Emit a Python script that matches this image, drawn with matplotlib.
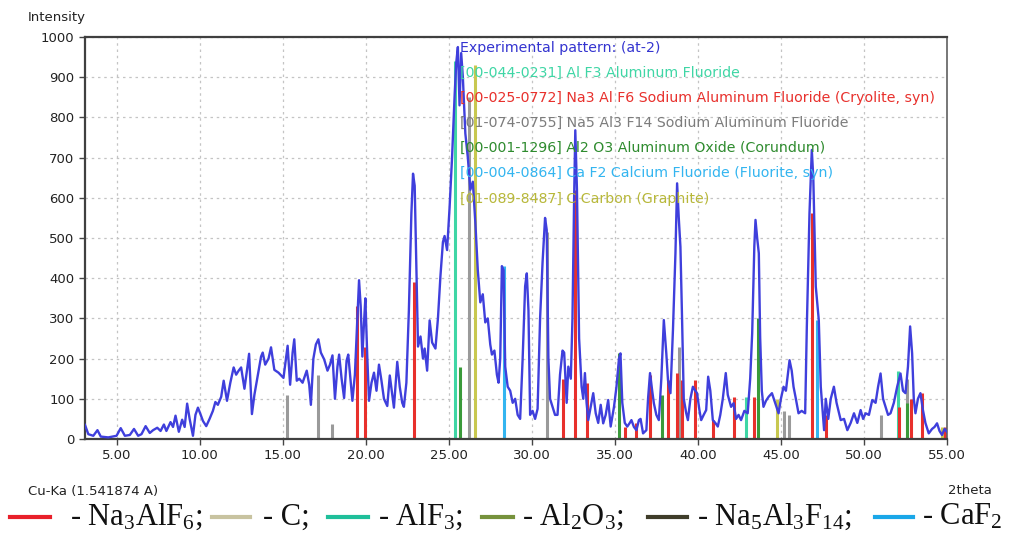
import matplotlib
matplotlib.use("Agg")
from matplotlib import pyplot as plt
from matplotlib.lines import Line2D

# experimental pattern (2theta, intensity)
two_theta = [3.1, 3.3, 3.6, 3.85, 4.05, 4.5, 5.0, 5.25, 5.5, 5.8, 6.05, 6.3, 6.5, 6.75, 7.0, 7.2, 7.45, 7.65,
             7.85, 8.0, 8.25, 8.4, 8.55, 8.75, 8.95, 9.1, 9.25, 9.4, 9.6, 9.75, 9.9, 10.05, 10.2, 10.4, 10.6,
             10.8, 10.95, 11.1, 11.3, 11.45, 11.65, 11.85, 12.05, 12.2, 12.35, 12.5, 12.7, 12.85, 12.98, 13.15,
             13.3, 13.5, 13.7, 13.8, 13.95, 14.15, 14.3, 14.5, 14.75, 15.05, 15.2, 15.3, 15.45, 15.6, 15.7,
             15.85, 16.0, 16.2, 16.45, 16.6, 16.7, 16.85, 17.0, 17.15, 17.3, 17.5, 17.7, 17.85, 18.0, 18.15,
             18.3, 18.4, 18.55, 18.7, 18.85, 18.95, 19.1, 19.2, 19.35, 19.5, 19.6, 19.7, 19.8, 19.9, 19.98,
             20.1, 20.2, 20.35, 20.5, 20.65, 20.8, 20.95, 21.1, 21.3, 21.45, 21.6, 21.7, 21.9, 22.05, 22.2,
             22.3, 22.45, 22.6, 22.75, 22.85, 22.95, 23.05, 23.15, 23.3, 23.45, 23.55, 23.7, 23.85, 24.0,
             24.2, 24.35, 24.5, 24.65, 24.75, 24.9, 25.05, 25.2, 25.35, 25.45, 25.55, 25.65, 25.75, 25.85,
             26.0, 26.15, 26.3, 26.45, 26.6, 26.75, 26.9, 27.05, 27.2, 27.35, 27.5, 27.6, 27.75, 27.9, 28.0,
             28.1, 28.2, 28.3, 28.4, 28.55, 28.7, 28.85, 29.0, 29.15, 29.3, 29.45, 29.6, 29.7, 29.8, 29.9,
             30.05, 30.2, 30.35, 30.5, 30.65, 30.8, 30.9, 31.0, 31.1, 31.25, 31.4, 31.55, 31.7, 31.85, 31.95,
             32.1, 32.2, 32.35, 32.45, 32.55, 32.62, 32.72, 32.85, 33.0, 33.1, 33.2, 33.3, 33.4, 33.55, 33.7,
             33.85, 34.0, 34.15, 34.3, 34.45, 34.6, 34.75, 34.95, 35.1, 35.25, 35.34, 35.45, 35.6, 35.75,
             35.9, 36.0, 36.15, 36.3, 36.45, 36.55, 36.7, 36.9, 37.0, 37.12, 37.25, 37.35, 37.5, 37.65, 37.8,
             37.95, 38.1, 38.2, 38.35, 38.5, 38.65, 38.75, 38.85, 38.95, 39.05, 39.15, 39.3, 39.4, 39.55,
             39.7, 39.85, 39.95, 40.1, 40.2, 40.35, 40.5, 40.62, 40.75, 40.9, 41.05, 41.2, 41.35, 41.5, 41.68,
             41.8, 42.0, 42.15, 42.3, 42.45, 42.6, 42.8, 43.0, 43.15, 43.27, 43.4, 43.47, 43.57, 43.67, 43.75,
             43.85, 43.95, 44.1, 44.26, 44.46, 44.65, 44.86, 45.0, 45.16, 45.3, 45.52, 45.65, 45.76, 45.9,
             46.06, 46.25, 46.46, 46.56, 46.72, 46.86, 46.95, 47.1, 47.28, 47.4, 47.6, 47.7, 47.85, 48.0,
             48.19, 48.35, 48.6, 48.8, 49.0, 49.2, 49.4, 49.6, 49.8, 49.95, 50.1, 50.3, 50.5, 50.7, 50.85,
             51.0, 51.15, 51.3, 51.45, 51.6, 51.8, 52.0, 52.2, 52.35, 52.5, 52.65, 52.78, 52.9, 53.0, 53.1,
             53.25, 53.4, 53.55, 53.7, 53.9, 54.1, 54.25, 54.4, 54.55, 54.7, 54.85, 55.0]
intensity = [35, 12, 8, 22, 6, 4, 8, 27, 8, 10, 25, 8, 12, 32, 15, 22, 28, 20,
             36, 20, 42, 30, 58, 18, 48, 30, 88, 50, 8, 60, 78, 62, 45, 32, 50,
             70, 92, 85, 105, 145, 95, 140, 178, 160, 170, 178, 125, 170, 212, 62,
             110, 158, 205, 215, 185, 200, 228, 172, 165, 152, 200, 232, 135, 215, 248,
             145, 150, 140, 170, 135, 85, 200, 235, 248, 215, 198, 170, 185, 208, 100,
             180, 210, 150, 102, 195, 210, 140, 95, 160, 300, 395, 330, 205, 290, 350,
             200, 95, 140, 165, 120, 185, 145, 100, 82, 158, 110, 78, 192, 130, 90,
             80, 140, 320, 560, 660, 630, 430, 230, 255, 200, 225, 170, 295, 240,
             225, 300, 405, 490, 505, 470, 575, 700, 850, 935, 975, 830, 960, 900,
             760, 700, 620, 640, 540, 420, 340, 360, 290, 300, 235, 210, 220, 160, 140,
             200, 430, 420, 180, 130, 120, 90, 100, 60, 50, 200, 380, 412, 320, 60,
             70, 50, 75, 300, 440, 550, 520, 200, 100, 80, 60, 60, 160, 220, 215,
             90, 180, 150, 300, 600, 768, 620, 250, 130, 100, 164, 90, 47, 80, 114,
             64, 40, 85, 39, 60, 97, 31, 80, 130, 200, 213, 90, 40, 31,
             40, 47, 30, 22, 47, 50, 14, 22, 100, 164, 120, 89, 60, 47, 150,
             296, 213, 147, 114, 271, 462, 636, 550, 478, 296, 100, 64, 47, 100,
             130, 120, 114, 70, 47, 60, 72, 155, 120, 47, 40, 31, 60, 100, 164,
             110, 80, 89, 50, 60, 47, 70, 64, 150, 263, 480, 545, 500, 462, 254,
             120, 80, 95, 105, 114, 90, 64, 100, 130, 120, 196, 170, 130, 100,
             64, 70, 64, 279, 561, 719, 650, 379, 296, 130, 22, 100, 50, 100,
             130, 90, 47, 50, 22, 40, 64, 40, 72, 50, 64, 60, 97, 90, 130,
             163, 100, 80, 60, 64, 90, 130, 163, 120, 114, 180, 280, 213, 100, 64,
             100, 114, 72, 40, 14, 25, 30, 39, 20, 10, 25, 18]

# reference stick patterns
na3alf6_pos = [19.45, 19.95, 22.9, 31.9, 32.6, 33.3, 35.6, 36.3, 37.1, 38.2, 38.75, 39.05, 39.8, 40.9,
               42.2, 43.35, 46.88, 47.7, 52.1, 52.85, 53.5, 54.9]
na3alf6_int = [330, 230, 390, 150, 620, 140, 30, 40, 160, 147, 164, 147, 147, 47,
               105, 105, 561, 60, 80, 100, 114, 30]
na5al3f14_pos = [15.25, 17.1, 17.95, 26.2, 30.9, 38.85, 45.2, 45.5, 51.0, 52.6]
na5al3f14_int = [110, 160, 38, 850, 515, 230, 70, 60, 60, 150]
alf3_pos = [25.35, 42.9, 52.05]
alf3_int = [940, 105, 170]
al2o3_pos = [25.65, 35.25, 37.85, 43.6, 52.6]
al2o3_int = [180, 213, 110, 300, 90]
caf2_pos = [28.3, 47.15]
caf2_int = [430, 296]
c_pos = [26.6, 44.75, 54.7]
c_int = [930, 100, 30]

phase_labels = [
    ("Experimental pattern: (at-2)", "#3434d0"),
    ("[00-044-0231] Al F3 Aluminum Fluoride", "#3fd6a5"),
    ("[00-025-0772] Na3 Al F6 Sodium Aluminum Fluoride (Cryolite, syn)", "#e8302c"),
    ("[01-074-0755] Na5 Al3 F14 Sodium Aluminum Fluoride", "#7c7c7c"),
    ("[00-001-1296] Al2 O3 Aluminum Oxide (Corundum)", "#2e8b2e"),
    ("[00-004-0864] Ca F2 Calcium Fluoride (Fluorite, syn)", "#33b5f0"),
    ("[01-089-8487] C Carbon (Graphite)", "#b8b83a"),
]

fig = plt.figure(figsize=(10.24, 5.34), dpi=100)
ax = fig.add_axes([85 / 1024, 1 - 439 / 534, 862 / 1024, 402 / 534])

stick_lw = 2.2
ax.vlines(na5al3f14_pos, 0, na5al3f14_int, colors="#9a9a9a", lw=stick_lw, zorder=2)
ax.vlines(c_pos, 0, c_int, colors="#c8c850", lw=stick_lw, zorder=2)
ax.vlines(alf3_pos, 0, alf3_int, colors="#3fd6a5", lw=stick_lw, zorder=2)
ax.vlines(al2o3_pos, 0, al2o3_int, colors="#3a9a3a", lw=stick_lw, zorder=2)
ax.vlines(caf2_pos, 0, caf2_int, colors="#33b5f0", lw=stick_lw, zorder=2)
ax.vlines(na3alf6_pos, 0, na3alf6_int, colors="#e8302c", lw=stick_lw, zorder=2)

ax.plot(two_theta, intensity, color="#3f3fdc", lw=1.7, zorder=3)

ax.set_xlim(3.1, 55.0)
ax.set_ylim(0, 1000)
ax.set_xticks(range(5, 56, 5))
ax.set_xticklabels(["%.2f" % v for v in range(5, 56, 5)])
ax.set_yticks(range(0, 1001, 100))
ax.tick_params(direction="out", length=4, width=1, colors="#444444", labelsize=9.5,
               labelcolor="#222222")
ax.grid(True, color="#c4c4c4", linestyle=(0, (2, 3)), lw=0.9, zorder=0)
ax.set_axisbelow(True)
for side in ["left", "bottom", "top"]:
    ax.spines[side].set_color("#404040")
    ax.spines[side].set_linewidth(1.6)
ax.spines["right"].set_color("#606060")
ax.spines["right"].set_linewidth(1.2)

# pattern list in the plot
for i, (txt, col) in enumerate(phase_labels):
    ax.text(0.435, 0.973 - i * 0.0625, txt, color=col, fontsize=10.2, va="center", ha="left",
            transform=ax.transAxes, zorder=4)

fig.text(28 / 1024, 1 - 17 / 534, "Intensity", fontsize=9.5, color="#222222", va="center", ha="left")
fig.text(28 / 1024, 1 - 491 / 534, "Cu-Ka (1.541874 A)", fontsize=9.5, color="#222222",
         va="center", ha="left")
fig.text(948 / 1024, 1 - 490 / 534, "2theta", fontsize=9.5, color="#222222", va="center", ha="left")

# bottom legend
legend_items = [
    (10, 50, 70, "#e8202a", r"- $\mathregular{Na_3AlF_6}$;"),
    (212, 250, 263, "#c8c3a0", "- C;"),
    (328, 368, 378, "#1fbf9a", r"- $\mathregular{AlF_3}$;"),
    (482, 513, 522, "#76923c", r"- $\mathregular{Al_2O_3}$;"),
    (648, 687, 697, "#3f3d2a", r"- $\mathregular{Na_5Al_3F_{14}}$;"),
    (875, 913, 922, "#1aa7e8", r"- $\mathregular{CaF_2}$"),
]
y_leg = 1 - 517 / 534
for x0, x1, xt, col, txt in legend_items:
    fig.add_artist(Line2D([x0 / 1024, x1 / 1024], [y_leg, y_leg], color=col, lw=3,
                          transform=fig.transFigure))
    fig.text(xt / 1024, y_leg, txt, fontsize=22, family="Liberation Serif", va="center",
             ha="left", color="#111111")

fig.savefig("out.png", dpi=100)
